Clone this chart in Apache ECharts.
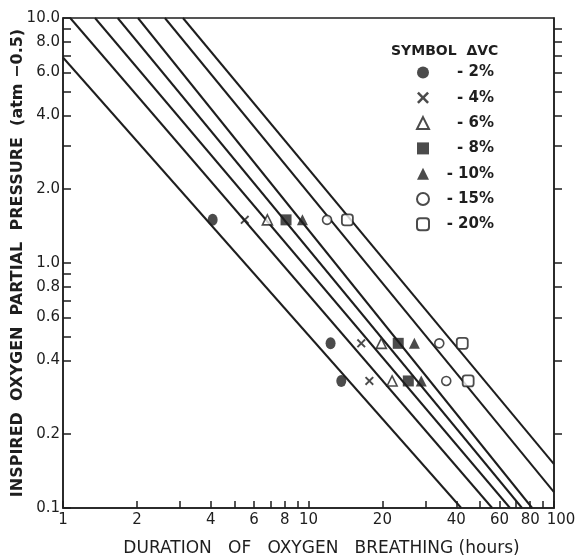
<!DOCTYPE html>
<html>
<head>
<meta charset="utf-8">
<script src="https://cdn.jsdelivr.net/npm/echarts@6/dist/echarts.min.js"></script>
<style>
html,body{margin:0;padding:0;background:#fff;}
#chart{width:577px;height:559px;}
</style>
</head>
<body>
<div id="chart"></div>
<script>
// ---- data ----
const vcLabels = ['- 2%', '- 4%', '- 6%', '- 8%', '- 10%', '- 15%', '- 20%'];
const pressureLevels = [1.5, 0.47, 0.33];
const dur2  = [4.07, 12.3, 13.6];
const dur4  = [5.5, 16.4, 17.7];
const dur6  = [6.8, 19.8, 21.9];
const dur8  = [8.1, 23.2, 25.5];
const dur10 = [9.45, 27.0, 28.8];
const dur15 = [11.9, 34.1, 36.4];
const dur20 = [14.4, 42.3, 44.7];
// iso-effect lines: endpoints [duration, pressure]
const line1 = [[1.0, 6.9], [41.9, 0.1]];
const line2 = [[1.07, 10], [56.0, 0.1]];
const line3 = [[1.35, 10], [66.2, 0.1]];
const line4 = [[1.67, 10], [74.1, 0.1]];
const line5 = [[2.02, 10], [81.5, 0.1]];
const line6 = [[2.60, 10], [100, 0.116]];
const line7 = [[3.08, 10], [100, 0.151]];
// ticks
const xTickValues = [1, 2, 3, 4, 5, 6, 7, 8, 9, 10, 20, 30, 40, 50, 60, 70, 80, 90, 100];
const xLabelValues = [1, 2, 4, 6, 8, 10, 20, 40, 60, 80, 100];
const yLeftTicks = [10, 9, 8, 7, 6, 5, 4, 3, 2, 1, 0.9, 0.8, 0.7, 0.6, 0.5, 0.4, 0.2, 0.1];
const yRightTicks = [9, 8, 7, 6, 5, 4, 3, 2, 1, 0.8, 0.6, 0.4, 0.2];
const yLabelValues = [10, 8, 6, 4, 2, 1, 0.8, 0.6, 0.4, 0.2, 0.1];

const ink = '#1e1e1e';
const durations = [dur2, dur4, dur6, dur8, dur10, dur15, dur20];
const lines = [line1, line2, line3, line4, line5, line6, line7];
const crossPath = 'path://M0,1.5L1.5,0L5,3.5L8.5,0L10,1.5L6.5,5L10,8.5L8.5,10L5,6.5L1.5,10L0,8.5L3.5,5Z';
const symbolDefs = [
  {symbol: 'circle', size: [10, 12], fill: ink},
  {symbol: crossPath, size: 9, fill: ink},
  {symbol: 'triangle', size: 10, fill: '#fff', border: 1.6},
  {symbol: 'rect', size: 11, fill: ink},
  {symbol: 'triangle', size: 11, fill: ink},
  {symbol: 'circle', size: 9, fill: '#fff', border: 1.6},
  {symbol: 'roundRect', size: 11, fill: '#fff', border: 1.8}
];

const series = [];
lines.forEach(function (l, i) {
  series.push({
    name: 'line' + i, type: 'line', data: l, symbol: 'none', silent: true,
    lineStyle: {color: ink, width: 2}, z: 1, animation: false
  });
});
durations.forEach(function (d, i) {
  const s = symbolDefs[i];
  series.push({
    name: vcLabels[i], type: 'scatter', z: 3, animation: false,
    symbol: s.symbol, symbolSize: s.size,
    data: d.map(function (v, j) { return [v, pressureLevels[j]]; }),
    itemStyle: {color: s.fill, borderColor: ink, borderWidth: s.border || 0}
  });
});

const fontFam = 'DejaVu Sans';
const chart = echarts.init(document.getElementById('chart'));
chart.setOption({
  backgroundColor: '#fff',
  animation: false,
  title: {
    text: 'SYMBOL  ΔVC', left: 386, top: 39,
    textStyle: {fontFamily: fontFam, fontSize: 14, fontWeight: 'bold', color: ink}
  },
  legend: {
    data: vcLabels, orient: 'vertical', left: 411, top: 60,
    itemWidth: 12, itemHeight: 12, itemGap: 10.3,
    formatter: function (n) { return '{a|' + n + '}'; },
    textStyle: {
      color: ink, fontFamily: fontFam, fontSize: 15, fontWeight: 'bold', lineHeight: 14,
      rich: {a: {width: 60, align: 'right', fontFamily: fontFam, fontSize: 15, fontWeight: 'bold', color: ink}}
    }
  },
  grid: {left: 63, right: 23, top: 18, bottom: 51, show: true, borderColor: ink, borderWidth: 1.5,
    containLabel: false, outerBoundsMode: 'none'},
  xAxis: {
    type: 'log', logBase: 10, min: 1, max: 100,
    name: 'DURATION   OF   OXYGEN   BREATHING (hours)', nameLocation: 'middle', nameGap: 32,
    nameMoveOverlap: false,
    nameTextStyle: {fontFamily: fontFam, fontSize: 17, color: ink, padding: [0, 0, 0, 26]},
    axisLine: {lineStyle: {color: ink, width: 1.5}},
    axisTick: {inside: true, length: 7, lineStyle: {color: ink, width: 1.5}, customValues: xTickValues},
    axisLabel: {customValues: xLabelValues, color: ink, fontFamily: fontFam, fontSize: 15, margin: 5,
      showMaxLabel: true, hideOverlap: false,
      rich: {r: {fontFamily: fontFam, fontSize: 15, color: ink, padding: [0, 0, 0, 14]}},
      formatter: function (v) {
        const t = String(Math.round(v));
        return Math.round(v) === 100 ? '{r|' + t + '}' : t;
      }},
    splitLine: {show: false}, minorTick: {show: false}
  },
  yAxis: [{
    type: 'log', logBase: 10, min: 0.1, max: 10,
    name: 'INSPIRED  OXYGEN  PARTIAL  PRESSURE  (atm −0.5)', nameLocation: 'middle', nameGap: 37,
    nameMoveOverlap: false,
    nameTextStyle: {fontFamily: fontFam, fontSize: 16, fontWeight: 'bold', color: ink},
    axisLine: {lineStyle: {color: ink, width: 1.5}},
    axisTick: {inside: true, length: 8, lineStyle: {color: ink, width: 1.5}, customValues: yLeftTicks},
    axisLabel: {customValues: yLabelValues, color: ink, fontFamily: fontFam, fontSize: 15, margin: 3,
      showMaxLabel: true, showMinLabel: true,
      formatter: function (v) { return Number(v).toFixed(1); }},
    splitLine: {show: false}
  }, {
    type: 'log', logBase: 10, min: 0.1, max: 10, position: 'right',
    axisLine: {show: true, lineStyle: {color: ink, width: 1.5}},
    axisTick: {inside: false, length: 8, lineStyle: {color: ink, width: 1.5}, customValues: yRightTicks},
    axisLabel: {show: false},
    splitLine: {show: false}
  }],
  series: series
});
</script>
</body>
</html>
